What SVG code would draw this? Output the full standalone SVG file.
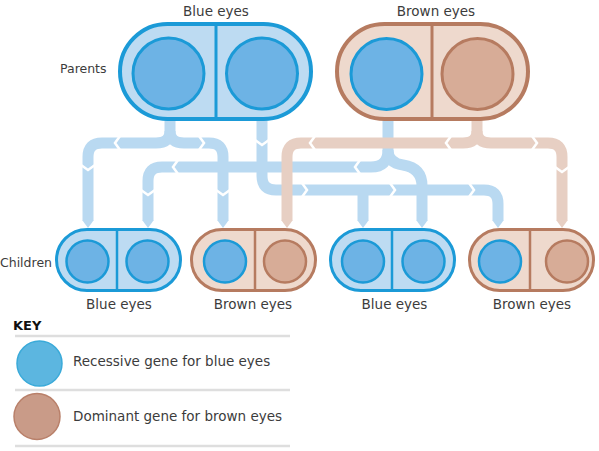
<svg xmlns="http://www.w3.org/2000/svg" xmlns:xlink="http://www.w3.org/1999/xlink" width="599" height="451" viewBox="0 0 599 451">
<style>
  .txt{font-family:"DejaVu Sans","Liberation Sans",sans-serif;fill:#3c3c3c}
  .cb{fill:none;stroke:#b9d9f1;stroke-width:11}
  .cr{fill:none;stroke:#e7cfc3;stroke-width:11}
  .tb{fill:#b9d9f1}
  .tr{fill:#e7cfc3}
  .chev{fill:none;stroke:#ffffff;stroke-width:2.5}
  .pb{fill:#bddbf2;stroke:#1b9ad7}
  .pr{fill:#eed9cd;stroke:#b67b60}
  .gb{fill:#6db3e5;stroke:#1b9ad7}
  .gr{fill:#d7ac97;stroke:#b67b60}
  .keyline{stroke:#dedede;stroke-width:2.5}
</style>
<defs>
  <path id="chev" d="M-3,-7 L2,0 L-3,7"/>
  <path id="tip" d="M-5.5,220.5 L5.5,220.5 L0,228 Z"/>
</defs>
<rect width="599" height="451" fill="#ffffff"/>

<g id="connectors">
  <g id="blue-lines">
    <path class="cb" d="M170,118 V131 Q170,143 156,143 H102 Q88,143 88,157 V221"/>
    <path class="cb" d="M170,131 Q170,143 184,143 H209 Q223,143 223,157 V221"/>
    <path class="cb" d="M262,118 V176 Q262,190 276,190 H484 Q498,190 498,204 V221"/>
    <path class="cb" d="M363,190 V221"/>
    <path class="cb" d="M388,118 V150 Q388,167 371,167 H162 Q148,167 148,181 V221"/>
    <path class="cb" d="M388,150 Q388,163 403,165 Q422,168 422,186 V221"/>
    <use href="#tip" class="tb" transform="translate(88,0)"/>
    <use href="#tip" class="tb" transform="translate(148,0)"/>
    <use href="#tip" class="tb" transform="translate(223,0)"/>
    <use href="#tip" class="tb" transform="translate(363,0)"/>
    <use href="#tip" class="tb" transform="translate(422,0)"/>
    <use href="#tip" class="tb" transform="translate(498,0)"/>
    <use href="#chev" class="chev" transform="translate(117,143) rotate(180)"/>
    <use href="#chev" class="chev" transform="translate(202,143)"/>
    <use href="#chev" class="chev" transform="translate(88,168) rotate(90)"/>
    <use href="#chev" class="chev" transform="translate(148,193) rotate(90)"/>
    <use href="#chev" class="chev" transform="translate(223,193) rotate(90)"/>
    <use href="#chev" class="chev" transform="translate(262,143) rotate(90)"/>
    <use href="#chev" class="chev" transform="translate(175,167) rotate(180)"/>
    <use href="#chev" class="chev" transform="translate(357,167) rotate(180)"/>
    <use href="#chev" class="chev" transform="translate(305,190)"/>
    <use href="#chev" class="chev" transform="translate(393,190)"/>
    <use href="#chev" class="chev" transform="translate(472,190)"/>
  </g>
  <g id="brown-lines">
    <path class="cr" d="M477,118 V131 Q477,143 463,143 H301 Q287,143 287,157 V221"/>
    <path class="cr" d="M477,131 Q477,143 491,143 H548 Q562,143 562,157 V221"/>
    <use href="#tip" class="tr" transform="translate(287,0)"/>
    <use href="#tip" class="tr" transform="translate(562,0)"/>
    <use href="#chev" class="chev" transform="translate(312,143) rotate(180)"/>
    <use href="#chev" class="chev" transform="translate(448,143) rotate(180)"/>
    <use href="#chev" class="chev" transform="translate(535,143)"/>
    <use href="#chev" class="chev" transform="translate(562,170) rotate(90)"/>
  </g>
</g>

<g id="parent-blue">
  <rect class="pb" x="120" y="24" width="191" height="95" rx="47.5" stroke-width="4"/>
  <line x1="216" y1="24" x2="216" y2="119" stroke="#1b9ad7" stroke-width="3"/>
  <circle class="gb" cx="168.5" cy="73.5" r="35.5" stroke-width="3"/>
  <circle class="gb" cx="262" cy="73.5" r="35.5" stroke-width="3"/>
  <text class="txt" x="216" y="16" font-size="13.5" text-anchor="middle">Blue eyes</text>
</g>

<g id="parent-brown">
  <rect class="pr" x="337" y="24" width="191" height="95" rx="47.5" stroke-width="4"/>
  <line x1="432" y1="24" x2="432" y2="119" stroke="#b67b60" stroke-width="3"/>
  <circle class="gb" cx="386.5" cy="74" r="35.5" stroke-width="3"/>
  <circle class="gr" cx="477.5" cy="74" r="35.5" stroke-width="3"/>
  <text class="txt" x="436" y="16" font-size="13.5" text-anchor="middle">Brown eyes</text>
</g>

<g id="label-parents">
  <text class="txt" x="60" y="73" font-size="12.5">Parents</text>
</g>
<g id="label-children">
  <text class="txt" x="0" y="267" font-size="12.5">Children</text>
</g>

<g id="child-1">
  <rect class="pb" x="56.5" y="229.5" width="124" height="61" rx="30.5" stroke-width="3"/>
  <line x1="117" y1="229.5" x2="117" y2="290.5" stroke="#1b9ad7" stroke-width="2.5"/>
  <circle class="gb" cx="87.5" cy="261.5" r="21" stroke-width="2.5"/>
  <circle class="gb" cx="147.5" cy="261.5" r="21" stroke-width="2.5"/>
  <text class="txt" x="119" y="309" font-size="13.5" text-anchor="middle">Blue eyes</text>
</g>

<g id="child-2">
  <rect class="pr" x="191.5" y="229.5" width="124" height="61" rx="30.5" stroke-width="3"/>
  <line x1="255" y1="229.5" x2="255" y2="290.5" stroke="#b67b60" stroke-width="2.5"/>
  <circle class="gb" cx="225" cy="261.5" r="21" stroke-width="2.5"/>
  <circle class="gr" cx="285" cy="261.5" r="21" stroke-width="2.5"/>
  <text class="txt" x="253" y="309" font-size="13.5" text-anchor="middle">Brown eyes</text>
</g>

<g id="child-3">
  <rect class="pb" x="330.5" y="229.5" width="124" height="61" rx="30.5" stroke-width="3"/>
  <line x1="392" y1="229.5" x2="392" y2="290.5" stroke="#1b9ad7" stroke-width="2.5"/>
  <circle class="gb" cx="363" cy="261.5" r="21" stroke-width="2.5"/>
  <circle class="gb" cx="423.5" cy="261.5" r="21" stroke-width="2.5"/>
  <text class="txt" x="394.5" y="309" font-size="13.5" text-anchor="middle">Blue eyes</text>
</g>

<g id="child-4">
  <rect class="pr" x="469.5" y="229.5" width="124" height="61" rx="30.5" stroke-width="3"/>
  <line x1="530" y1="229.5" x2="530" y2="290.5" stroke="#b67b60" stroke-width="2.5"/>
  <circle class="gb" cx="500" cy="261.5" r="21" stroke-width="2.5"/>
  <circle class="gr" cx="567" cy="261.5" r="21" stroke-width="2.5"/>
  <text class="txt" x="532" y="309" font-size="13.5" text-anchor="middle">Brown eyes</text>
</g>

<g id="key">
  <text x="13" y="330" font-size="13" font-weight="bold" font-family="'DejaVu Sans','Liberation Sans',sans-serif" fill="#111">KEY</text>
  <line class="keyline" x1="15" y1="336" x2="290" y2="336"/>
  <circle cx="39.5" cy="363.5" r="22.5" fill="#5cb6e0" stroke="#3aaad9" stroke-width="1.5"/>
  <text class="txt" x="73" y="366" font-size="13.5">Recessive gene for blue eyes</text>
  <line class="keyline" x1="15" y1="390" x2="290" y2="390"/>
  <circle cx="37" cy="416.5" r="23" fill="#c99b88" stroke="#b9806a" stroke-width="1.5"/>
  <text class="txt" x="73" y="421" font-size="13.5">Dominant gene for brown eyes</text>
  <line class="keyline" x1="15" y1="446" x2="290" y2="446"/>
</g>
</svg>
